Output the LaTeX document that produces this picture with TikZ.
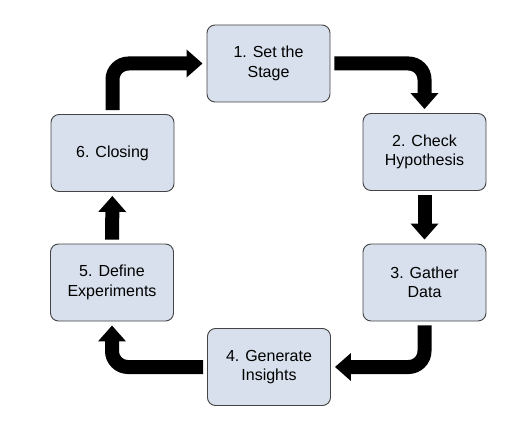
\documentclass[tikz,border=0pt]{standalone}
\usepackage{fontspec}
\setmainfont{Liberation Sans}
\usetikzlibrary{positioning,arrows.meta}

\definecolor{stagefill}{HTML}{D7E0EC}
\definecolor{stageline}{HTML}{444444}

\tikzset{
  stage/.style={draw=stageline,fill=stagefill,line width=0.9pt,rounded corners=8pt,
    minimum width=123pt,minimum height=77pt,align=center,
    font=\fontsize{16}{19.5}\selectfont},
  flow/.style={line width=14pt,rounded corners=16pt,
    -{Triangle[width=27pt,length=16pt]},shorten <=4pt,shorten >=4pt}
}

\begin{document}
\begin{tikzpicture}[x=1pt,y=-1pt]
            \useasboundingbox (0,0) rectangle (530,425);
            \node[stage] (set) at (268.5,63.5) {1. Set the\\Stage};
            \node[stage] (check) at (424.5,152) {2. Check\\Hypothesis};
            \node[stage] (gather) at (424.5,282.5) {3. Gather\\Data};
            \node[stage] (insight) at (269,367) {4. Generate\\Insights};
            \node[stage] (define) at (112,282.5) {5. Define\\Experiments};
            \node[stage] (close) at (112.5,153) {6. Closing};
            \draw[flow] (set.east) -| (check.north);
            \draw[flow] (check) -- (gather);
            \draw[flow] (gather.south) |- (insight.east);
            \draw[flow] (insight.west) -| (define.south);
            \draw[flow] (define) -- (close);
            \draw[flow] (close.north) |- (set.west);
        \end{tikzpicture}
\end{document}
